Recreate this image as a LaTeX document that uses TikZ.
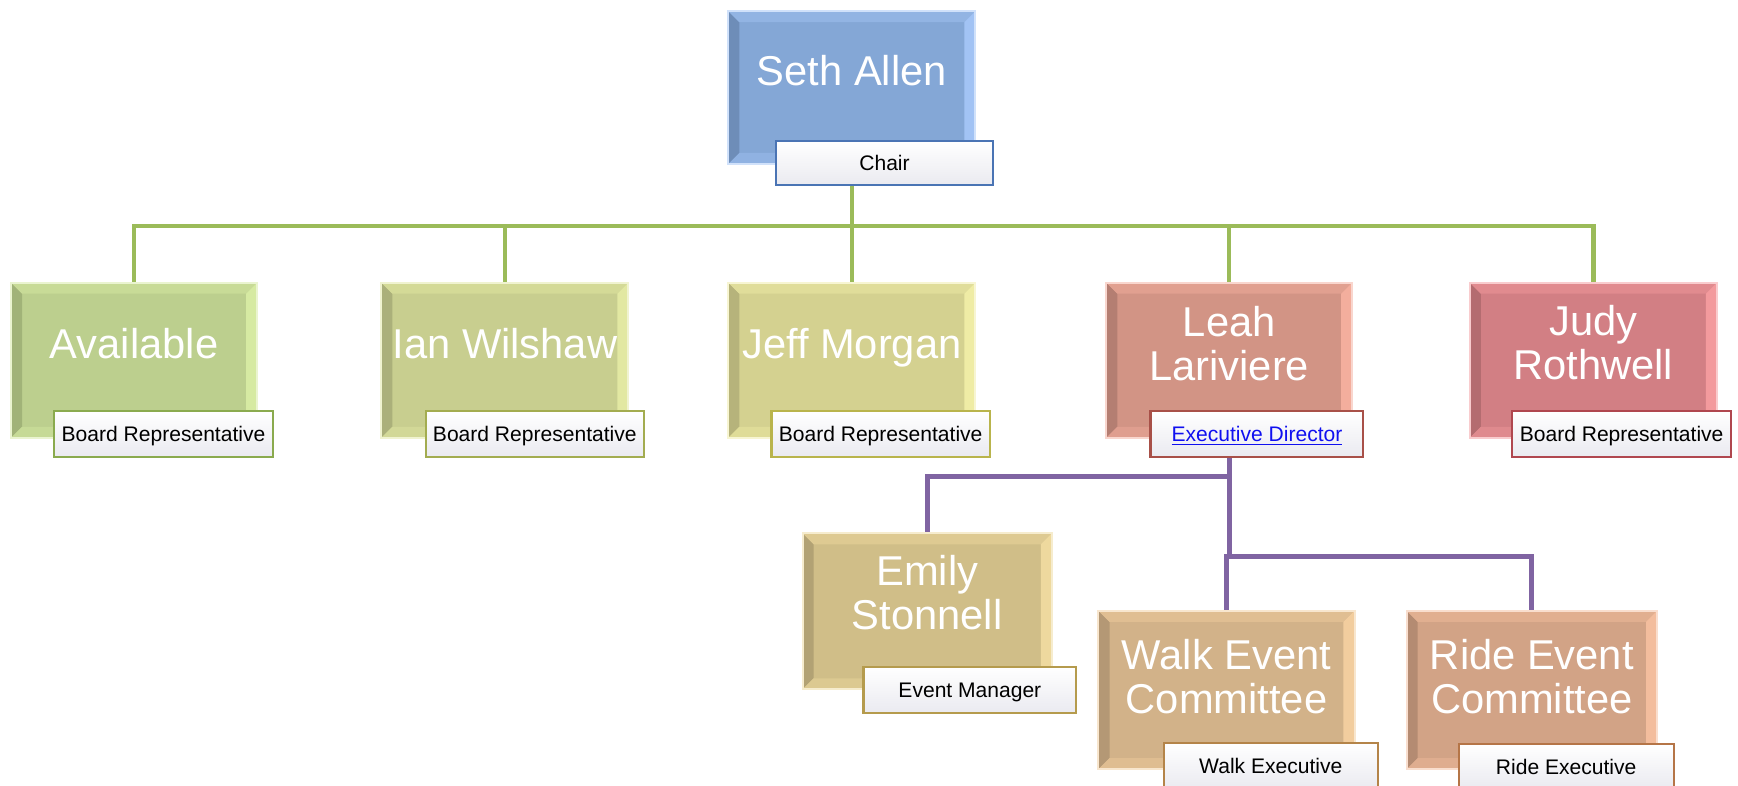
\documentclass[tikz,border=0pt]{standalone}
\usepackage{fontspec}
\setmainfont{Liberation Sans}
\usetikzlibrary{fit,backgrounds}
% main box colours: B base, L light, D dark
\definecolor{sethB}{HTML}{84A7D6}\definecolor{sethL}{HTML}{A2C3F4}\definecolor{sethD}{HTML}{6E8DB8}
\definecolor{availB}{HTML}{BCCF8E}\definecolor{availL}{HTML}{D6EAA2}\definecolor{availD}{HTML}{A1B378}
\definecolor{ianB}{HTML}{C8CE8F}\definecolor{ianL}{HTML}{E2E8A2}\definecolor{ianD}{HTML}{ABB07A}
\definecolor{jeffB}{HTML}{D4D190}\definecolor{jeffL}{HTML}{EFECA5}\definecolor{jeffD}{HTML}{B6B37B}
\definecolor{leahB}{HTML}{D29485}\definecolor{leahL}{HTML}{F3AE9D}\definecolor{leahD}{HTML}{B47E72}
\definecolor{judyB}{HTML}{D27F84}\definecolor{judyL}{HTML}{F39A9D}\definecolor{judyD}{HTML}{B46C70}
\definecolor{emilyB}{HTML}{D0BE88}\definecolor{emilyL}{HTML}{EED99E}\definecolor{emilyD}{HTML}{B2A274}
\definecolor{walkB}{HTML}{D2B289}\definecolor{walkL}{HTML}{F2CD9E}\definecolor{walkD}{HTML}{B49875}
\definecolor{rideB}{HTML}{D2A386}\definecolor{rideL}{HTML}{F3BD9D}\definecolor{rideD}{HTML}{B48B72}
% sub box borders
\definecolor{chairE}{HTML}{4A74B4}
\definecolor{availE}{HTML}{8AAA4E}
\definecolor{ianE}{HTML}{A3AC50}
\definecolor{jeffE}{HTML}{B9B44C}
\definecolor{leahE}{HTML}{A85048}
\definecolor{judyE}{HTML}{B0474F}
\definecolor{emilyE}{HTML}{B59B4D}
\definecolor{walkE}{HTML}{B48449}
\definecolor{rideE}{HTML}{B57547}
\definecolor{subG}{HTML}{EAEAF0}
\definecolor{gcol}{HTML}{9BBB59}
\definecolor{pcol}{HTML}{8064A2}
\definecolor{linkcol}{HTML}{1010F0}
\newcommand\bigf{\fontsize{18.8pt}{19.75pt}\selectfont}
\newcommand\smf{\fontsize{9.5pt}{11pt}\selectfont}
\newcommand\twoln[2]{\vtop{\baselineskip=19.75pt\halign{\hfil##\hfil\cr#1\cr#2\cr}}}
\tikzset{
  mainbox/.style={fill=#1B, draw=#1L!50!white, line width=0.9pt, inner sep=0pt,
    path picture={
      \fill[#1D] (path picture bounding box.south west) -- (path picture bounding box.north west)
        -- ([shift={(5pt,-5pt)}]path picture bounding box.north west)
        -- ([shift={(5pt,5pt)}]path picture bounding box.south west) -- cycle;
      \fill[#1L!45!#1B] (path picture bounding box.north west) -- (path picture bounding box.north east)
        -- ([shift={(-5pt,-5pt)}]path picture bounding box.north east)
        -- ([shift={(5pt,-5pt)}]path picture bounding box.north west) -- cycle;
      \fill[#1L] (path picture bounding box.north east) -- (path picture bounding box.south east)
        -- ([shift={(-5pt,5pt)}]path picture bounding box.south east)
        -- ([shift={(-5pt,-5pt)}]path picture bounding box.north east) -- cycle;
      \fill[#1L!40!#1B] (path picture bounding box.south west) -- (path picture bounding box.south east)
        -- ([shift={(-5pt,5pt)}]path picture bounding box.south east)
        -- ([shift={(5pt,5pt)}]path picture bounding box.south west) -- cycle;
    }},
  subbox/.style={draw=#1, line width=1pt, top color=white, bottom color=subG, inner sep=0pt,
    text height=6.8pt, text depth=0pt, font=\smf, text=black, anchor=center},
  maintext/.style={text=white, font=\bigf, inner sep=0pt, anchor=base},
  gline/.style={draw=gcol, line width=2pt},
  pline/.style={draw=pcol, line width=2.2pt},
}
\begin{document}
\begin{tikzpicture}[x=0.5pt, y=-0.5pt]
\useasboundingbox (0,0) rectangle (1568,709);
% main boxes
\node[mainbox=seth,  fit={(657,10)(880,148)}]   (seth)  {};
\node[mainbox=avail, fit={(10,255)(232,395)}]   (avail) {};
\node[mainbox=ian,   fit={(344,255)(567,395)}]  (ian)   {};
\node[mainbox=jeff,  fit={(657,255)(880,395)}]  (jeff)  {};
\node[mainbox=leah,  fit={(998,255)(1220,395)}] (leah)  {};
\node[mainbox=judy,  fit={(1326,255)(1549,395)}] (judy) {};
\node[mainbox=emily, fit={(724,481)(949,622)}]  (emily) {};
\node[mainbox=walk,  fit={(991,551)(1222,694)}] (walk)  {};
\node[mainbox=ride,  fit={(1269,551)(1495,694)}] (ride) {};
% names
\node[maintext] (sethT)  at (768.5,77)  {Seth Allen};
\node[maintext] (availT) at (121,323)   {Available};
\node[maintext] (ianT)   at (455.5,323) {Ian Wilshaw};
\node[maintext] (jeffT)  at (768.5,323) {Jeff Morgan};
\node[maintext] (leahT)  at (1109,304)  {\twoln{Leah}{Lariviere}};
\node[maintext] (judyT)  at (1437.5,303) {\twoln{Judy}{Rothwell}};
\node[maintext] (emilyT) at (836.5,528) {\twoln{Emily}{Stonnell}};
\node[maintext] (walkT)  at (1106.5,604) {\twoln{Walk Event}{Committee}};
\node[maintext] (rideT)  at (1382,604)  {\twoln{Ride Event}{Committee}};
% role boxes
\node[subbox=chairE, minimum width=98pt, minimum height=20pt]   (chair)  at (798,147)    {Chair};
\node[subbox=availE, minimum width=98.5pt, minimum height=20.5pt] (availR) at (147.5,391.5) {Board Representative};
\node[subbox=ianE,   minimum width=98.5pt, minimum height=20.5pt] (ianR)   at (482.5,391.5) {Board Representative};
\node[subbox=jeffE,  minimum width=98.5pt, minimum height=20.5pt] (jeffR)  at (794.5,391.5) {Board Representative};
\node[subbox=leahE,  minimum width=96pt,   minimum height=20.5pt] (leahR)  at (1134,391.5)  {\textcolor{linkcol}{\underline{Executive Director}}};
\node[subbox=judyE,  minimum width=99pt,   minimum height=20.5pt] (judyR)  at (1463,391.5)  {Board Representative};
\node[subbox=emilyE, minimum width=96pt,   minimum height=20.5pt] (emilyR) at (875,622.5)   {Event Manager};
\node[subbox=walkE,  minimum width=96.5pt, minimum height=21pt]   (walkR)  at (1146.5,691)  {Walk Executive};
\node[subbox=rideE,  minimum width=97pt,   minimum height=20.5pt] (rideR)  at (1413,691.5)  {Ride Executive};
% connectors
\coordinate (gbus)  at (768.5,204);
\coordinate (pbus1) at (1109,430);
\coordinate (pbus2) at (1109,502);
\begin{scope}[on background layer]
\fill[white] (0,0) rectangle (1568,709);
\draw[gline] (seth.south) -- (gbus);
\draw[gline] (gbus) -| (avail.north);
\draw[gline] (gbus) -| (ian.north);
\draw[gline] (gbus) -- (jeff.north);
\draw[gline] (gbus) -| (leah.north);
\draw[gline] (gbus) -| (judy.north);
\draw[pline] (leah.south) -- (pbus2);
\draw[pline] (pbus1) -| (emily.north);
\draw[pline] (pbus2) -| (walk.north);
\draw[pline] (pbus2) -| (ride.north);
\end{scope}
\end{tikzpicture}
\end{document}
